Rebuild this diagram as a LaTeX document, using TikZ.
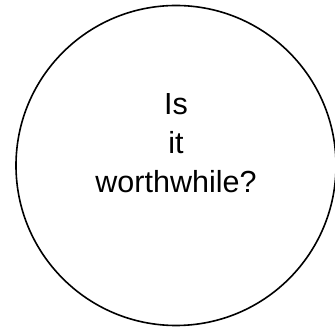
\documentclass[tikz,border=0pt]{standalone}
\usepackage{fontspec}
\setmainfont{Liberation Sans}
\usetikzlibrary{positioning}
\tikzset{
  question/.style={
    circle, draw=black, fill=white,
    minimum size=320pt, inner sep=0pt, line width=1.6pt
  },
  qtext/.style={
    font=\fontsize{30.5}{39}\selectfont, align=center, inner sep=0pt
  },
}
\begin{document}
\begin{tikzpicture}

  \useasboundingbox (-176pt,-165.5pt) rectangle (159pt,165.5pt);

  % The question
  \node[question, label={[qtext, yshift=22pt]center:Is\\it\\worthwhile?}] (worth) at (0,0) {};

\end{tikzpicture}
\end{document}
